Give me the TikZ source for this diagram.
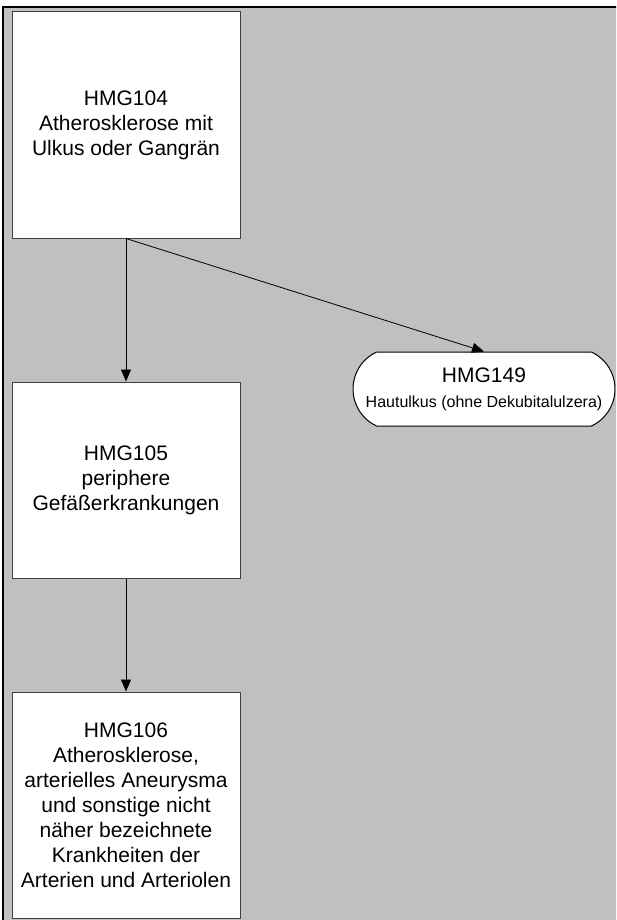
\documentclass[tikz,border=0pt]{standalone}
\usepackage{fontspec}
\setmainfont{Liberation Sans}
\usepackage{tikz}
\usetikzlibrary{arrows.meta,shapes.misc}
\definecolor{panelgray}{RGB}{192,192,192}
\definecolor{boxline}{RGB}{64,64,64}

\begin{document}
\begin{tikzpicture}[x=1pt,y=-1pt,
  hmgbox/.style={draw=boxline,fill=white,line width=1pt,minimum width=228pt,align=center,inner sep=0pt,font=\fontsize{21}{25}\selectfont},
  hmgpill/.style={rounded rectangle,rounded rectangle arc length=130,draw=black,fill=white,line width=1pt,minimum width=262pt,minimum height=74pt,align=center,inner sep=0pt,font=\fontsize{21}{25}\selectfont},
  arr/.style={-{Triangle[length=12pt,width=10pt]},line width=0.8pt}]
  \useasboundingbox (0,0) rectangle (616,920); \clip (0,0) rectangle (616,920);
  \filldraw[fill=panelgray,draw=black,line width=2pt] (3,7) rectangle (640,950);
  \node[hmgbox,minimum height=226pt] (hmg104) at (126,125) {HMG104\\Atherosklerose mit\\Ulkus oder Gangrän};
  \node[hmgbox,minimum height=196pt] (hmg105) at (126,480) {HMG105\\periphere\\Gefäßerkrankungen};
  \node[hmgbox,minimum height=226pt] (hmg106) at (126,805) {HMG106\\Atherosklerose,\\arterielles Aneurysma\\und sonstige nicht\\näher bezeichnete\\Krankheiten der\\Arterien und Arteriolen};
  \node[hmgpill] (hmg149) at (484,389) {HMG149\\{\fontsize{16}{25}\selectfont Hautulkus (ohne Dekubitalulzera)}};
  \draw[arr] (hmg104.south) -- (hmg105.north);
  \draw[arr] (hmg104.south) -- (hmg149.north);
  \draw[arr] (hmg105.south) -- (hmg106.north);
\end{tikzpicture}
\end{document}
